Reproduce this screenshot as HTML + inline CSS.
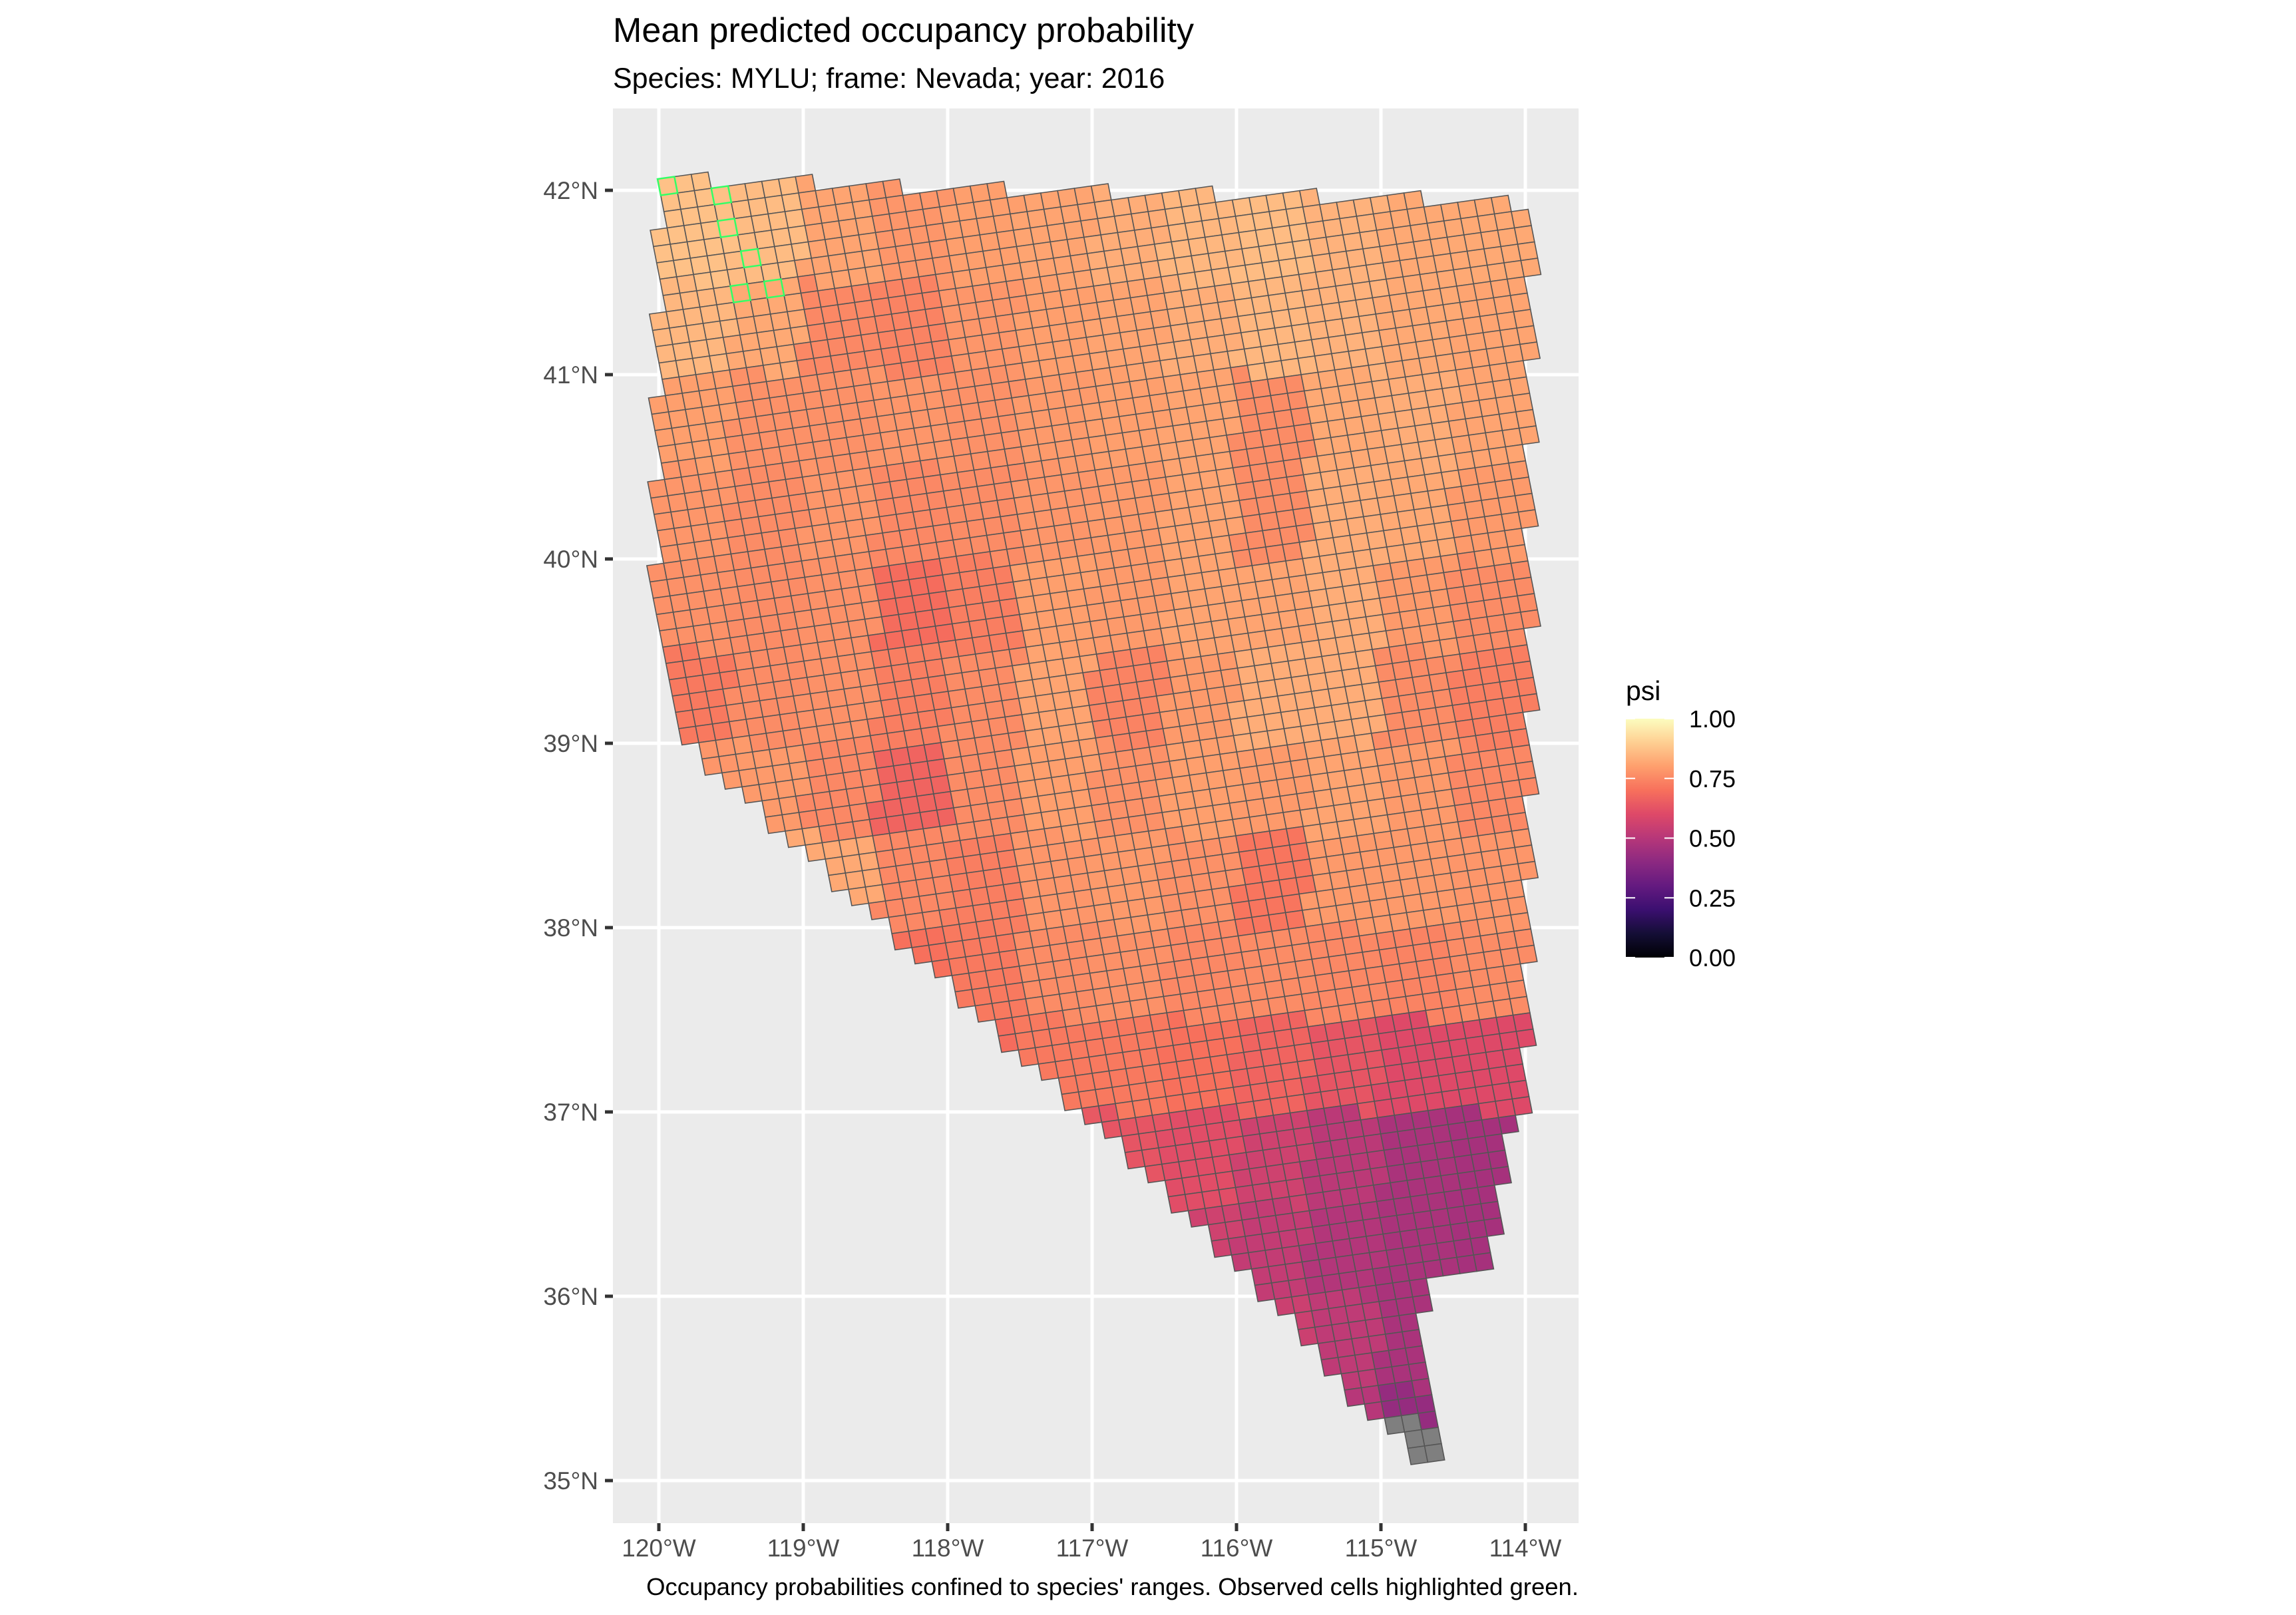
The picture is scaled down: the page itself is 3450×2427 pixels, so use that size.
<!DOCTYPE html>
<html><head><meta charset="utf-8">
<style>
html,body{margin:0;padding:0;background:#fff;}
svg{display:block;font-family:"Liberation Sans",Arial,sans-serif;}
</style></head>
<body>
<svg id="chart" width="3450" height="2427" viewBox="0 0 3450 2427" xmlns="http://www.w3.org/2000/svg">
  <rect x="0" y="0" width="3450" height="2427" fill="#ffffff"/>
  <text x="921" y="63" font-size="52" fill="#000">Mean predicted occupancy probability</text>
  <text x="921" y="132" font-size="43" fill="#000">Species: MYLU; frame: Nevada; year: 2016</text>
  <rect x="921" y="163" width="1451" height="2126" fill="#EBEBEB"/>
  <g id="grid"></g>
  <g id="cells"></g>
  <g id="axes"></g>
  <g id="legend"></g>
  <text x="2372" y="2397" font-size="36.5" text-anchor="end" fill="#000">Occupancy probabilities confined to species' ranges. Observed cells highlighted green.</text>
</svg>
<script>
// ---- data ----
const lonTicks = [-120,-119,-118,-117,-116,-115,-114];
const lonTickLabels = ["120°W","119°W","118°W","117°W","116°W","115°W","114°W"];
const latTicks = [42,41,40,39,38,37,36,35];
const latTickLabels = ["42°N","41°N","40°N","39°N","38°N","37°N","36°N","35°N"];
const legendBreaks = [0,0.25,0.5,0.75,1];
const legendLabels = ["0.00","0.25","0.50","0.75","1.00"];
// state outline (lon, lat)
const boundaryLon = [-120.0,-113.95,-113.97,-114.0,-114.1,-114.2,-114.25,-114.72,-114.6,-114.76,-114.9,-115.1,-115.9,-117.07,-118.44,-119.9,-120.02];
const boundaryLat = [42.06,41.93,37.5,37.0,36.9,36.4,36.1,36.12,35.1,35.08,35.25,35.35,36.1,37.0,38.0,39.05,39.15];
// mean psi by 0.5° blocks: rows from 42N southward, cols from 120W eastward
const psiRow0  = [0.87,0.86,0.81,0.78,0.80,0.81,0.83,0.85,0.86,0.84,0.82,0.82];
const psiRow1  = [0.85,0.82,0.75,0.74,0.78,0.80,0.81,0.83,0.85,0.84,0.82,0.81];
const psiRow2  = [0.80,0.77,0.77,0.78,0.77,0.79,0.80,0.81,0.76,0.82,0.83,0.81];
const psiRow3  = [0.78,0.76,0.78,0.75,0.76,0.78,0.79,0.81,0.76,0.83,0.82,0.79];
const psiRow4  = [0.77,0.76,0.77,0.69,0.73,0.80,0.79,0.81,0.81,0.83,0.79,0.76];
const psiRow5  = [0.72,0.76,0.77,0.73,0.76,0.81,0.74,0.79,0.83,0.83,0.76,0.73];
const psiRow6  = [0.78,0.79,0.75,0.67,0.76,0.80,0.77,0.80,0.79,0.81,0.79,0.75];
const psiRow7  = [0.82,0.82,0.82,0.75,0.73,0.78,0.79,0.77,0.71,0.79,0.79,0.78];
const psiRow8  = [0.72,0.72,0.72,0.70,0.72,0.76,0.77,0.75,0.76,0.75,0.74,0.76];
const psiRow9  = [0.70,0.70,0.70,0.70,0.69,0.72,0.72,0.70,0.67,0.63,0.60,0.60];
const psiRow10 = [0.63,0.63,0.63,0.63,0.63,0.64,0.63,0.61,0.56,0.51,0.47,0.46];
const psiRow11 = [0.58,0.58,0.58,0.58,0.58,0.58,0.58,0.56,0.53,0.49,0.47,0.46];
const psiRow12 = [0.55,0.55,0.55,0.55,0.55,0.55,0.55,0.55,0.55,0.52,0.47,0.47];
const psiRow13 = [0.50,0.50,0.50,0.50,0.50,0.50,0.50,0.50,0.50,0.50,0.42,0.42];
const psiRows = [psiRow0,psiRow1,psiRow2,psiRow3,psiRow4,psiRow5,psiRow6,psiRow7,psiRow8,psiRow9,psiRow10,psiRow11,psiRow12,psiRow13];
const naBelowLat = 35.32;
// observed cells (lon, lat)
const observedLon = [-119.97,-119.62,-119.55,-119.3,-119.45,-119.25];
const observedLat = [42.02,41.99,41.82,41.6,41.45,41.43];

// ---- scales ----
const NS="http://www.w3.org/2000/svg";
const X0=990, PXLON=217, Y0=286, PXLAT=277;
const xS = lon => X0 + (lon+120)*PXLON;
const yS = lat => Y0 + (42-lat)*PXLAT;
const lonOf = x => (x-X0)/PXLON - 120;
const latOf = y => 42 - (y-Y0)/PXLAT;
const PL={x:921,y:163,w:1451,h:2126};
function mk(tag,attrs,parent){const e=document.createElementNS(NS,tag);for(const k in attrs)e.setAttribute(k,attrs[k]);parent.appendChild(e);return e;}

const magma=[[0,"#000004"],[0.1,"#140E36"],[0.2,"#3B0F70"],[0.3,"#641A80"],[0.4,"#8C2981"],[0.5,"#B73779"],[0.6,"#DE4968"],[0.7,"#F7705C"],[0.8,"#FE9F6D"],[0.9,"#FECF92"],[1,"#FCFDBF"]];
function hx(h){return [1,3,5].map(i=>parseInt(h.substr(i,2),16));}
function col(v){v=Math.max(0,Math.min(1,v));for(let i=0;i<magma.length-1;i++){const a=magma[i],b=magma[i+1];if(v<=b[0]){const t=(v-a[0])/(b[0]-a[0]);const ca=hx(a[1]),cb=hx(b[1]);return "rgb("+ca.map((c,k)=>Math.round(c+(cb[k]-c)*t)).join(",")+")";}}return magma[magma.length-1][1];}

// ---- gridlines ----
const grid=document.getElementById('grid');
lonTicks.forEach((lon,i)=>{
  const g=mk('line',{x1:xS(lon),x2:xS(lon),y1:PL.y,y2:PL.y+PL.h,stroke:"#fff","stroke-width":5},grid);
  
  
});
latTicks.forEach((lat,i)=>{
  const g=mk('line',{x1:PL.x,x2:PL.x+PL.w,y1:yS(lat),y2:yS(lat),stroke:"#fff","stroke-width":5},grid);
  
  
});

// ---- cells ----
function inside(lon,lat){let c=false;const n=boundaryLon.length;for(let i=0,j=n-1;i<n;j=i++){const xi=boundaryLon[i],yi=boundaryLat[i],xj=boundaryLon[j],yj=boundaryLat[j];if(((yi>lat)!=(yj>lat))&&(lon<(xj-xi)*(lat-yi)/(yj-yi)+xi))c=!c;}return c;}
function psi(lon,lat){let r=Math.floor((42-lat)/0.5),c=Math.floor((lon+120)/0.5);r=Math.max(0,Math.min(psiRows.length-1,r));c=Math.max(0,Math.min(11,c));return psiRows[r][c];}
const cells=document.getElementById('cells');
const O=[988,269], U=[25.3,-3.5], V=[4.8,24.5];
const P=(i,j)=>[O[0]+i*U[0]+j*V[0], O[1]+i*U[1]+j*V[1]];
for(let j=-3;j<85;j++){for(let i=-5;i<60;i++){
  const c=P(i+0.5,j+0.5);const lon=lonOf(c[0]),lat=latOf(c[1]);
  if(!inside(lon,lat))continue;
  const pts=[P(i,j),P(i+1,j),P(i+1,j+1),P(i,j+1)].map(p=>p[0].toFixed(1)+","+p[1].toFixed(1)).join(" ");
  const fill= lat<naBelowLat ? "#7F7F7F" : col(psi(lon,lat));
  const e=mk('polygon',{points:pts,fill:fill,stroke:"#555","stroke-width":1.6},cells);
  
  
}}
// observed highlights
observedLon.forEach((lon,k)=>{
  const x=xS(lon),y=yS(observedLat[k]);
  const dx=x-O[0],dy=y-O[1],det=U[0]*V[1]-U[1]*V[0];
  const i=Math.floor((dx*V[1]-dy*V[0])/det),j=Math.floor((U[0]*dy-U[1]*dx)/det);
  const pts=[P(i,j),P(i+1,j),P(i+1,j+1),P(i,j+1)].map(p=>p[0].toFixed(1)+","+p[1].toFixed(1)).join(" ");
  const e=mk('polygon',{points:pts,fill:"none",stroke:"#33FF66","stroke-width":2.5},cells);
  
  
});

// ---- axes ----
const axes=document.getElementById('axes');
lonTicks.forEach((lon,i)=>{
  const t=mk('line',{x1:xS(lon),x2:xS(lon),y1:PL.y+PL.h,y2:PL.y+PL.h+12,stroke:"#333","stroke-width":5},axes);
  
  
  const l=mk('text',{x:xS(lon),y:2339,"font-size":37,"text-anchor":"middle",fill:"#4D4D4D"},axes);
  l.textContent=lonTickLabels[i];
  
  
});
latTicks.forEach((lat,i)=>{
  const t=mk('line',{x1:PL.x-12,x2:PL.x,y1:yS(lat),y2:yS(lat),stroke:"#333","stroke-width":5},axes);
  
  
  const l=mk('text',{x:899,y:yS(lat)+13,"font-size":37,"text-anchor":"end",fill:"#4D4D4D"},axes);
  l.textContent=latTickLabels[i];
  
  
});

// ---- legend ----
const leg=document.getElementById('legend');
const LB={x:2443,y:1080,w:72,h:359};
const defs=mk('defs',{},leg);
const grad=mk('linearGradient',{id:"mg",x1:0,y1:1,x2:0,y2:0},defs);
magma.forEach(s=>mk('stop',{offset:s[0],"stop-color":s[1]},grad));
const lt=mk('text',{x:2443,y:1052,"font-size":41,fill:"#000"},leg);
lt.textContent="psi";


const bar=mk('rect',{x:LB.x,y:LB.y,width:LB.w,height:LB.h,fill:"url(#mg)"},leg);


legendBreaks.forEach((b,i)=>{
  const y=LB.y+LB.h*(1-b);
  mk('line',{x1:LB.x,x2:LB.x+14,y1:y,y2:y,stroke:"#fff","stroke-width":2},leg);
  mk('line',{x1:LB.x+LB.w-14,x2:LB.x+LB.w,y1:y,y2:y,stroke:"#fff","stroke-width":2},leg);
  const l=mk('text',{x:2538,y:y+13,"font-size":36,fill:"#000"},leg);
  l.textContent=legendLabels[i];
  
  
});
</script>
</body></html>
